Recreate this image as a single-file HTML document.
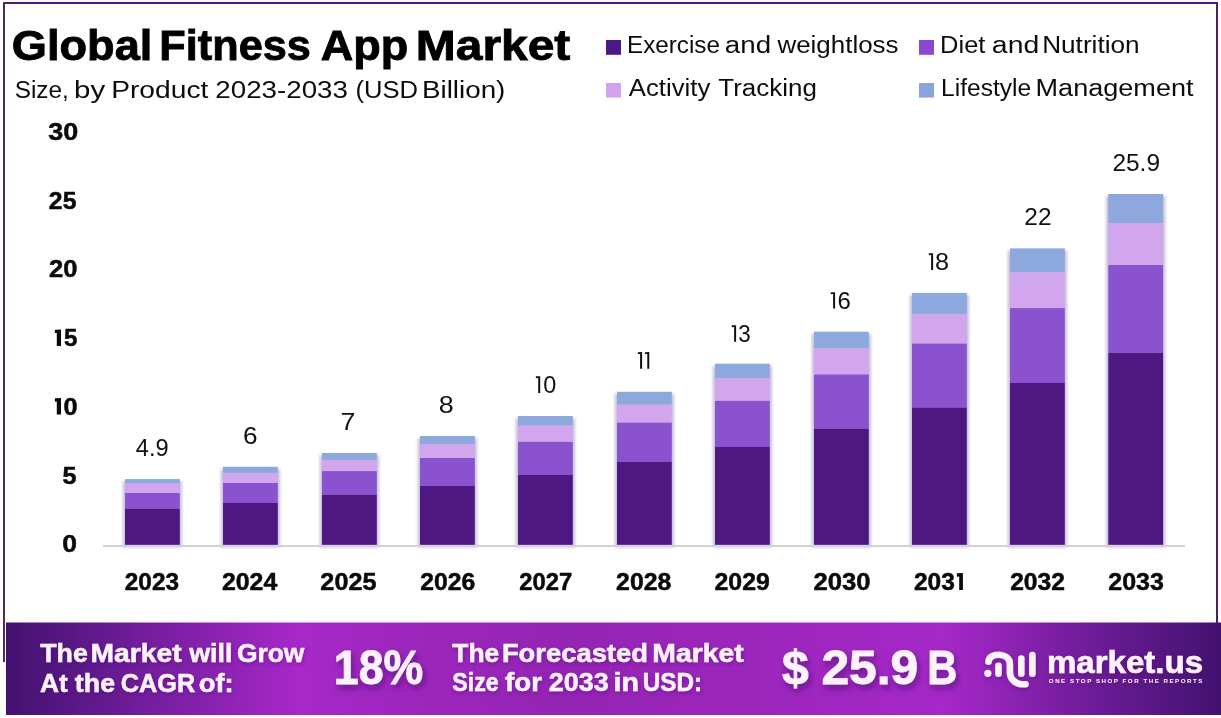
<!DOCTYPE html>
<html><head><meta charset="utf-8">
<style>
html,body{margin:0;padding:0;background:#fff;width:1221px;height:718px;overflow:hidden}
svg{display:block;position:absolute;left:0;top:0;will-change:transform}
text{font-family:"Liberation Sans",sans-serif}
.ttl{font-weight:bold;font-size:43.2px;fill:#000;stroke:#000;stroke-width:0.9px}
.sub{font-size:24.4px;fill:#0c0c0c}
.leg{font-size:23.3px;fill:#0c0c0c}
.ax{font-weight:bold;font-size:24.1px;fill:#0a0a0a;stroke:#0a0a0a;stroke-width:0.5px}
.yr{font-weight:bold;font-size:24.4px;fill:#0a0a0a;stroke:#0a0a0a;stroke-width:0.5px}
.val{font-size:24px;fill:#111}
.bn{font-weight:bold;font-size:25.4px;fill:#fdf2fb;stroke:#fdf2fb;stroke-width:0.5px}
.big{font-weight:bold;font-size:49px;fill:#fdf2fb;stroke:#fdf2fb;stroke-width:0.8px}
.mk{font-weight:bold;font-size:30.8px;fill:#fdf2fb;stroke:#fdf2fb;stroke-width:0.6px}
.tag{font-weight:bold;font-size:6.2px;fill:#fdf2fb}
</style></head><body>
<svg width="1221" height="718" viewBox="0 0 1221 718">
<defs>
<linearGradient id="bg" x1="0" y1="0" x2="1" y2="0">
<stop offset="0" stop-color="#421270"/>
<stop offset="0.123" stop-color="#761ea0"/>
<stop offset="0.239" stop-color="#a628c8"/>
<stop offset="0.349" stop-color="#9c26bc"/>
<stop offset="0.461" stop-color="#9424b4"/>
<stop offset="0.612" stop-color="#9c26bc"/>
<stop offset="0.774" stop-color="#a528c8"/>
<stop offset="0.889" stop-color="#701c9a"/>
<stop offset="1" stop-color="#421270"/>
</linearGradient>
<filter id="sh" x="-20%" y="-20%" width="140%" height="160%">
<feDropShadow dx="2" dy="4" stdDeviation="3" flood-color="#3a0a60" flood-opacity="0.6"/>
</filter>
<filter id="bs" x="-20%" y="-5%" width="140%" height="110%"><feGaussianBlur stdDeviation="1.6"/></filter>
<filter id="sh2" x="-10%" y="-30%" width="120%" height="160%">
<feDropShadow dx="1" dy="2" stdDeviation="2" flood-color="#3a0a60" flood-opacity="0.35"/>
</filter>
</defs>
<rect x="3" y="2" width="1215" height="2" fill="#5e1472"/>
<rect x="3" y="2" width="2" height="660" fill="#55285e"/>
<rect x="1216" y="2" width="2" height="621" fill="#4e1e68"/>
<text id="title_0" x="11.74" y="59.70" class="ttl we" textLength="140.58" lengthAdjust="spacingAndGlyphs" >Global</text>
<text id="title_1" x="159.37" y="59.70" class="ttl wo" textLength="151.47" lengthAdjust="spacingAndGlyphs" >Fitness</text>
<text id="title_2" x="320.68" y="59.70" class="ttl we" textLength="87.47" lengthAdjust="spacingAndGlyphs" >App</text>
<text id="title_3" x="415.87" y="59.70" class="ttl wo" textLength="154.48" lengthAdjust="spacingAndGlyphs" >Market</text>
<text id="sub_0" x="14.65" y="97.50" class="sub we" textLength="54.20" lengthAdjust="spacingAndGlyphs" >Size,</text>
<text id="sub_1" x="74.11" y="97.50" class="sub wo" textLength="31.07" lengthAdjust="spacingAndGlyphs" >by</text>
<text id="sub_2" x="111.17" y="97.50" class="sub we" textLength="97.21" lengthAdjust="spacingAndGlyphs" >Product</text>
<text id="sub_3" x="215.31" y="97.50" class="sub wo" textLength="132.61" lengthAdjust="spacingAndGlyphs" >2023-2033</text>
<text id="sub_4" x="355.49" y="97.50" class="sub we" textLength="62.55" lengthAdjust="spacingAndGlyphs" >(USD</text>
<text id="sub_5" x="421.96" y="97.50" class="sub wo" textLength="83.41" lengthAdjust="spacingAndGlyphs" >Billion)</text>
<rect x="606" y="40" width="15" height="14.8" fill="#4b1a88"/>
<text id="leg1_0" x="627.02" y="52.90" class="leg we" textLength="92.91" lengthAdjust="spacingAndGlyphs" >Exercise</text>
<text id="leg1_1" x="724.87" y="52.90" class="leg wo" textLength="46.29" lengthAdjust="spacingAndGlyphs" >and</text>
<text id="leg1_2" x="777.44" y="52.90" class="leg we" textLength="121.07" lengthAdjust="spacingAndGlyphs" >weightloss</text>
<rect x="919" y="40" width="15" height="14.8" fill="#8a48d0"/>
<text id="leg2_0" x="940.13" y="52.90" class="leg we" textLength="45.32" lengthAdjust="spacingAndGlyphs" >Diet</text>
<text id="leg2_1" x="991.89" y="52.90" class="leg wo" textLength="47.35" lengthAdjust="spacingAndGlyphs" >and</text>
<text id="leg2_2" x="1042.15" y="52.90" class="leg we" textLength="97.50" lengthAdjust="spacingAndGlyphs" >Nutrition</text>
<rect x="606" y="83" width="15" height="14.6" fill="#d0a4ec"/>
<text id="leg3_0" x="628.89" y="95.80" class="leg we" textLength="81.36" lengthAdjust="spacingAndGlyphs" >Activity</text>
<text id="leg3_1" x="718.33" y="95.80" class="leg wo" textLength="98.56" lengthAdjust="spacingAndGlyphs" >Tracking</text>
<rect x="919" y="83" width="15" height="14.6" fill="#8aa5dc"/>
<text id="leg4_0" x="941.10" y="95.80" class="leg we" textLength="90.08" lengthAdjust="spacingAndGlyphs" >Lifestyle</text>
<text id="leg4_1" x="1035.58" y="95.80" class="leg wo" textLength="157.91" lengthAdjust="spacingAndGlyphs" >Management</text>
<rect x="122.80" y="481.10" width="59.20" height="66.20" fill="#b4aacc" filter="url(#bs)" opacity="0.75"/>
<rect x="125.00" y="479.10" width="54.80" height="4.40" fill="#8ca8dc" />
<rect x="125.00" y="483.50" width="54.80" height="9.50" fill="#d2a6ec" />
<rect x="125.00" y="493.00" width="54.80" height="15.70" fill="#8b52cf" />
<rect x="125.00" y="508.70" width="54.80" height="36.10" fill="#4e1782" />
<rect x="220.80" y="468.80" width="59.20" height="78.50" fill="#b4aacc" filter="url(#bs)" opacity="0.75"/>
<rect x="223.00" y="466.80" width="54.80" height="6.10" fill="#8ca8dc" />
<rect x="223.00" y="472.90" width="54.80" height="10.10" fill="#d2a6ec" />
<rect x="223.00" y="483.00" width="54.80" height="20.00" fill="#8b52cf" />
<rect x="223.00" y="503.00" width="54.80" height="41.80" fill="#4e1782" />
<rect x="319.80" y="455.00" width="59.20" height="92.30" fill="#b4aacc" filter="url(#bs)" opacity="0.75"/>
<rect x="322.00" y="453.00" width="54.80" height="6.90" fill="#8ca8dc" />
<rect x="322.00" y="459.90" width="54.80" height="11.20" fill="#d2a6ec" />
<rect x="322.00" y="471.10" width="54.80" height="23.60" fill="#8b52cf" />
<rect x="322.00" y="494.70" width="54.80" height="50.10" fill="#4e1782" />
<rect x="417.80" y="438.00" width="59.20" height="109.30" fill="#b4aacc" filter="url(#bs)" opacity="0.75"/>
<rect x="420.00" y="436.00" width="54.80" height="8.40" fill="#8ca8dc" />
<rect x="420.00" y="444.40" width="54.80" height="13.60" fill="#d2a6ec" />
<rect x="420.00" y="458.00" width="54.80" height="27.90" fill="#8b52cf" />
<rect x="420.00" y="485.90" width="54.80" height="58.90" fill="#4e1782" />
<rect x="515.80" y="418.00" width="59.20" height="129.30" fill="#b4aacc" filter="url(#bs)" opacity="0.75"/>
<rect x="518.00" y="416.00" width="54.80" height="9.60" fill="#8ca8dc" />
<rect x="518.00" y="425.60" width="54.80" height="16.30" fill="#d2a6ec" />
<rect x="518.00" y="441.90" width="54.80" height="32.90" fill="#8b52cf" />
<rect x="518.00" y="474.80" width="54.80" height="70.00" fill="#4e1782" />
<rect x="614.80" y="393.80" width="59.20" height="153.50" fill="#b4aacc" filter="url(#bs)" opacity="0.75"/>
<rect x="617.00" y="391.80" width="54.80" height="12.80" fill="#8ca8dc" />
<rect x="617.00" y="404.60" width="54.80" height="18.00" fill="#d2a6ec" />
<rect x="617.00" y="422.60" width="54.80" height="39.40" fill="#8b52cf" />
<rect x="617.00" y="462.00" width="54.80" height="82.80" fill="#4e1782" />
<rect x="712.80" y="365.70" width="59.20" height="181.60" fill="#b4aacc" filter="url(#bs)" opacity="0.75"/>
<rect x="715.00" y="363.70" width="54.80" height="14.30" fill="#8ca8dc" />
<rect x="715.00" y="378.00" width="54.80" height="22.90" fill="#d2a6ec" />
<rect x="715.00" y="400.90" width="54.80" height="46.10" fill="#8b52cf" />
<rect x="715.00" y="447.00" width="54.80" height="97.80" fill="#4e1782" />
<rect x="811.80" y="333.70" width="59.20" height="213.60" fill="#b4aacc" filter="url(#bs)" opacity="0.75"/>
<rect x="814.00" y="331.70" width="54.80" height="16.70" fill="#8ca8dc" />
<rect x="814.00" y="348.40" width="54.80" height="26.10" fill="#d2a6ec" />
<rect x="814.00" y="374.50" width="54.80" height="54.20" fill="#8b52cf" />
<rect x="814.00" y="428.70" width="54.80" height="116.10" fill="#4e1782" />
<rect x="909.80" y="294.90" width="59.20" height="252.40" fill="#b4aacc" filter="url(#bs)" opacity="0.75"/>
<rect x="912.00" y="292.90" width="54.80" height="21.00" fill="#8ca8dc" />
<rect x="912.00" y="313.90" width="54.80" height="29.70" fill="#d2a6ec" />
<rect x="912.00" y="343.60" width="54.80" height="63.90" fill="#8b52cf" />
<rect x="912.00" y="407.50" width="54.80" height="137.30" fill="#4e1782" />
<rect x="1007.80" y="250.40" width="59.20" height="296.90" fill="#b4aacc" filter="url(#bs)" opacity="0.75"/>
<rect x="1010.00" y="248.40" width="54.80" height="23.90" fill="#8ca8dc" />
<rect x="1010.00" y="272.30" width="54.80" height="35.80" fill="#d2a6ec" />
<rect x="1010.00" y="308.10" width="54.80" height="74.90" fill="#8b52cf" />
<rect x="1010.00" y="383.00" width="54.80" height="161.80" fill="#4e1782" />
<rect x="1106.10" y="196.00" width="59.20" height="351.30" fill="#b4aacc" filter="url(#bs)" opacity="0.75"/>
<rect x="1108.30" y="194.00" width="54.80" height="29.00" fill="#8ca8dc" />
<rect x="1108.30" y="223.00" width="54.80" height="42.00" fill="#d2a6ec" />
<rect x="1108.30" y="265.00" width="54.80" height="88.00" fill="#8b52cf" />
<rect x="1108.30" y="353.00" width="54.80" height="191.80" fill="#4e1782" />
<rect x="103.00" y="545.00" width="1082.00" height="2.00" fill="#d2d2d2" />
<rect x="125.00" y="545.00" width="54.80" height="2.00" fill="#dccdf0" />
<rect x="223.00" y="545.00" width="54.80" height="2.00" fill="#dccdf0" />
<rect x="322.00" y="545.00" width="54.80" height="2.00" fill="#dccdf0" />
<rect x="420.00" y="545.00" width="54.80" height="2.00" fill="#dccdf0" />
<rect x="518.00" y="545.00" width="54.80" height="2.00" fill="#dccdf0" />
<rect x="617.00" y="545.00" width="54.80" height="2.00" fill="#dccdf0" />
<rect x="715.00" y="545.00" width="54.80" height="2.00" fill="#dccdf0" />
<rect x="814.00" y="545.00" width="54.80" height="2.00" fill="#dccdf0" />
<rect x="912.00" y="545.00" width="54.80" height="2.00" fill="#dccdf0" />
<rect x="1010.00" y="545.00" width="54.80" height="2.00" fill="#dccdf0" />
<rect x="1108.30" y="545.00" width="54.80" height="2.00" fill="#dccdf0" />
<text id="val0" x="152.20" y="455.60" class="val" textLength="32.82" lengthAdjust="spacingAndGlyphs" text-anchor="middle" >4.9</text>
<text id="yr0" x="151.90" y="590.10" class="yr" textLength="54.19" lengthAdjust="spacingAndGlyphs" text-anchor="middle" >2023</text>
<text id="val1" x="250.30" y="443.60" class="val" textLength="14.59" lengthAdjust="spacingAndGlyphs" text-anchor="middle" >6</text>
<text id="yr1" x="249.60" y="590.10" class="yr" textLength="55.34" lengthAdjust="spacingAndGlyphs" text-anchor="middle" >2024</text>
<text id="val2" x="348.05" y="430.10" class="val" textLength="14.86" lengthAdjust="spacingAndGlyphs" text-anchor="middle" >7</text>
<text id="yr2" x="348.40" y="590.10" class="yr" textLength="56.08" lengthAdjust="spacingAndGlyphs" text-anchor="middle" >2025</text>
<text id="val3" x="446.25" y="413.10" class="val" textLength="14.98" lengthAdjust="spacingAndGlyphs" text-anchor="middle" >8</text>
<text id="yr3" x="447.75" y="590.10" class="yr" textLength="55.01" lengthAdjust="spacingAndGlyphs" text-anchor="middle" >2026</text>
<path d="M535.90 376.35 L540.20 376.20 L540.20 393.00 L538.20 393.00 L538.20 378.10 L535.90 378.20 Z" fill="#111"/>
<text id="val4" x="543.19" y="393.00" class="val" textLength="13.04" lengthAdjust="spacingAndGlyphs" >0</text>
<text id="yr4" x="545.70" y="590.10" class="yr" textLength="52.94" lengthAdjust="spacingAndGlyphs" text-anchor="middle" >2027</text>
<path d="M637.80 352.25 L642.10 352.10 L642.10 368.70 L640.10 368.70 L640.10 354.00 L637.80 354.10 Z" fill="#111"/>
<path d="M645.00 352.25 L649.30 352.10 L649.30 368.70 L647.30 368.70 L647.30 354.00 L645.00 354.10 Z" fill="#111"/>
<text id="yr5" x="643.75" y="590.10" class="yr" textLength="55.29" lengthAdjust="spacingAndGlyphs" text-anchor="middle" >2028</text>
<path d="M731.80 325.35 L736.10 325.20 L736.10 341.70 L734.10 341.70 L734.10 327.10 L731.80 327.20 Z" fill="#111"/>
<text id="val6" x="738.36" y="342.20" class="val" textLength="12.46" lengthAdjust="spacingAndGlyphs" >3</text>
<text id="yr6" x="742.15" y="590.10" class="yr" textLength="55.28" lengthAdjust="spacingAndGlyphs" text-anchor="middle" >2029</text>
<path d="M830.80 292.35 L835.10 292.20 L835.10 308.50 L833.10 308.50 L833.10 294.10 L830.80 294.20 Z" fill="#111"/>
<text id="val7" x="837.55" y="309.00" class="val" textLength="13.32" lengthAdjust="spacingAndGlyphs" >6</text>
<text id="yr7" x="842.10" y="590.10" class="yr" textLength="57.00" lengthAdjust="spacingAndGlyphs" text-anchor="middle" >2030</text>
<path d="M928.80 253.35 L933.10 253.20 L933.10 269.90 L931.10 269.90 L931.10 255.10 L928.80 255.20 Z" fill="#111"/>
<text id="val8" x="935.06" y="270.00" class="val" textLength="14.06" lengthAdjust="spacingAndGlyphs" >8</text>
<path d="M956.90 573.15 L962.90 573.00 L962.90 589.90 L959.20 589.90 L959.20 576.60 L956.90 576.70 Z" fill="#0a0a0a"/>
<text id="yr8" x="913.99" y="590.10" class="yr" textLength="40.93" lengthAdjust="spacingAndGlyphs" >203</text>
<text id="val9" x="1037.90" y="225.20" class="val" textLength="27.19" lengthAdjust="spacingAndGlyphs" text-anchor="middle" >22</text>
<text id="yr9" x="1037.55" y="590.10" class="yr" textLength="54.76" lengthAdjust="spacingAndGlyphs" text-anchor="middle" >2032</text>
<text id="val10" x="1136.20" y="171.00" class="val" textLength="47.58" lengthAdjust="spacingAndGlyphs" text-anchor="middle" >25.9</text>
<text id="yr10" x="1136.10" y="590.10" class="yr" textLength="55.61" lengthAdjust="spacingAndGlyphs" text-anchor="middle" >2033</text>
<text id="ax0" x="78.20" y="139.90" class="ax" textLength="29.97" lengthAdjust="spacingAndGlyphs" text-anchor="end" >30</text>
<text id="ax1" x="76.40" y="209.20" class="ax" textLength="27.52" lengthAdjust="spacingAndGlyphs" text-anchor="end" >25</text>
<text id="ax2" x="77.40" y="277.30" class="ax" textLength="28.45" lengthAdjust="spacingAndGlyphs" text-anchor="end" >20</text>
<path d="M54.90 329.65 L61.00 329.50 L61.00 346.00 L56.80 346.00 L56.80 333.00 L54.90 333.10 Z" fill="#0a0a0a"/>
<text id="ax3" x="64.00" y="346.20" class="ax" textLength="13.41" lengthAdjust="spacingAndGlyphs" >5</text>
<path d="M54.90 398.25 L61.00 398.10 L61.00 414.60 L56.80 414.60 L56.80 401.60 L54.90 401.70 Z" fill="#0a0a0a"/>
<text id="ax4" x="63.45" y="414.80" class="ax" textLength="14.08" lengthAdjust="spacingAndGlyphs" >0</text>
<text id="ax5" x="76.40" y="483.70" class="ax" textLength="13.97" lengthAdjust="spacingAndGlyphs" text-anchor="end" >5</text>
<text id="ax6" x="77.00" y="551.70" class="ax" textLength="14.75" lengthAdjust="spacingAndGlyphs" text-anchor="end" >0</text>
<rect x="6" y="622.5" width="1215" height="92.5" fill="url(#bg)"/>
<g filter="url(#sh2)">
<text id="bn1_0" x="40.24" y="661.80" class="bn we" textLength="47.51" lengthAdjust="spacingAndGlyphs" >The</text>
<text id="bn1_1" x="90.51" y="661.80" class="bn wo" textLength="91.09" lengthAdjust="spacingAndGlyphs" >Market</text>
<text id="bn1_2" x="189.21" y="661.80" class="bn we" textLength="43.31" lengthAdjust="spacingAndGlyphs" >will</text>
<text id="bn1_3" x="237.01" y="661.80" class="bn wo" textLength="67.34" lengthAdjust="spacingAndGlyphs" >Grow</text>
<text id="bn2_0" x="40.02" y="691.50" class="bn we" textLength="27.67" lengthAdjust="spacingAndGlyphs" >At</text>
<text id="bn2_1" x="74.87" y="691.50" class="bn wo" textLength="40.21" lengthAdjust="spacingAndGlyphs" >the</text>
<text id="bn2_2" x="120.81" y="691.50" class="bn we" textLength="74.39" lengthAdjust="spacingAndGlyphs" >CAGR</text>
<text id="bn2_3" x="198.76" y="691.50" class="bn wo" textLength="34.94" lengthAdjust="spacingAndGlyphs" >of:</text>
<text id="bn3_0" x="452.37" y="661.70" class="bn we" textLength="46.85" lengthAdjust="spacingAndGlyphs" >The</text>
<text id="bn3_1" x="501.92" y="661.70" class="bn wo" textLength="146.00" lengthAdjust="spacingAndGlyphs" >Forecasted</text>
<text id="bn3_2" x="652.37" y="661.70" class="bn we" textLength="91.34" lengthAdjust="spacingAndGlyphs" >Market</text>
<text id="bn4_0" x="452.37" y="691.30" class="bn we" textLength="46.42" lengthAdjust="spacingAndGlyphs" >Size</text>
<text id="bn4_1" x="505.07" y="691.30" class="bn wo" textLength="36.83" lengthAdjust="spacingAndGlyphs" >for</text>
<text id="bn4_2" x="548.84" y="691.30" class="bn we" textLength="59.82" lengthAdjust="spacingAndGlyphs" >2033</text>
<text id="bn4_3" x="613.63" y="691.30" class="bn wo" textLength="25.52" lengthAdjust="spacingAndGlyphs" >in</text>
<text id="bn4_4" x="642.70" y="691.30" class="bn we" textLength="59.36" lengthAdjust="spacingAndGlyphs" >USD:</text>
</g>
<text id="big1" x="333.81" y="684.00" class="big" textLength="89.43" lengthAdjust="spacingAndGlyphs" filter="url(#sh)">18%</text>
<text id="big2_0" x="782.10" y="683.50" class="big we" textLength="26.71" lengthAdjust="spacingAndGlyphs" filter="url(#sh)">$</text>
<text id="big2_1" x="821.44" y="683.50" class="big wo" textLength="96.83" lengthAdjust="spacingAndGlyphs" filter="url(#sh)">25.9</text>
<text id="big2_2" x="927.31" y="683.50" class="big we" textLength="30.05" lengthAdjust="spacingAndGlyphs" filter="url(#sh)">B</text>
<g filter="url(#sh2)">
<g fill="none" stroke="#fdf2fb" stroke-width="6.6" stroke-linecap="round">
<path d="M988.5 661.8 C988.5 652 1009.9 652 1009.9 664 L1009.9 672.2 A12 12 0 0 0 1021.9 684.2 L1025.5 684.2"/>
<line x1="998.5" y1="665.8" x2="998.5" y2="673.7"/>
<line x1="1021.3" y1="658.6" x2="1021.3" y2="673.7"/>
<line x1="1032.4" y1="655" x2="1032.4" y2="673.7"/>
</g>
<circle cx="987.8" cy="673.3" r="3.6" fill="#fdf2fb"/>
<text id="mk" x="1046.98" y="672.70" class="mk" textLength="156.16" lengthAdjust="spacingAndGlyphs" >market.us</text>
<text id="tag" x="1048.81" y="682.50" class="tag" textLength="153.67" lengthAdjust="spacing" >ONE STOP SHOP FOR THE REPORTS</text>
</g>
</svg>
</body></html>
